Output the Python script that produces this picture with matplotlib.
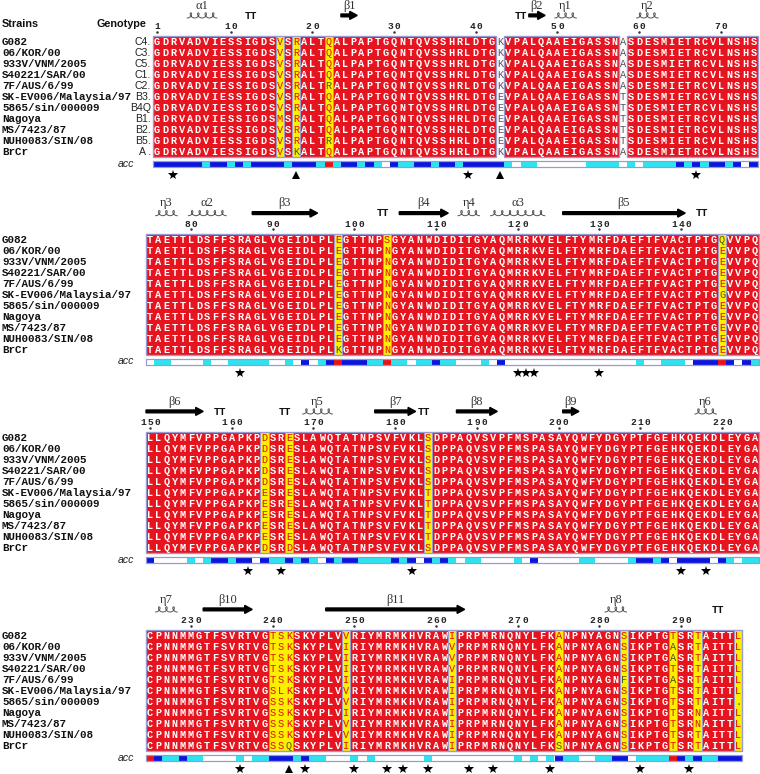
import numpy as np
import matplotlib.pyplot as plt
from matplotlib.patches import Rectangle, FancyArrow

# ---- data -------------------------------------------------------------
strains = ["G082", "06/KOR/00", "933V/VNM/2005", "S40221/SAR/00", "7F/AUS/6/99",
           "SK-EV006/Malaysia/97", "5865/sin/000009", "Nagoya", "MS/7423/87",
           "NUH0083/SIN/08", "BrCr"]
genotypes = ["C4.", "C3.", "C5.", "C1.", "C2.", "B3.", "B4Q", "B1.", "B2.", "B5.", "A ."]

block_starts = [1, 75, 150, 225]

# reference sequence (G082), one string per block
ref_seq = [
    "GDRVADVIESSIGDSVSRALTQALPAPTGQNTQVSSHRLDTGKVPALQAAEIGASSNASDESMIETRCVLNSHS",
    "TAETTLDSFFSRAGLVGEIDLPLEGTTNPSGYANWDIDITGYAQMRRKVELFTYMRFDAEFTFVACTPTGQVVPQ",
    "LLQYMFVPPGAPKPDSRESLAWQTATNPSVFVKLSDPPAQVSVPFMSPASAYQWFYDGYPTFGEHKQEKDLEYGA",
    "CPNNMMGTFSVRTVGTSKSKYPLVVRIYMRMKHVRAWIPRPMRNQNYLFKANPNYAGNSIKPTGTSRTAITTL",
]

# columns that differ between strains: residue -> letters in strain order
variable_cols = {
    16: "VVVVVVVMVVV", 18: "RRRRRRRRRRK", 22: "QQQQRQQQQRQ",
    43: "KKKKKEEEEEK", 58: "AAAAATTTTTA",
    98: "EEEEEEEEEEK", 104: "SNNNNNNNNNN", 145: "QEEEEGEEEEE",
    164: "DDDDDEEEEED", 167: "EEEEEEEEEED", 184: "SSSSSTTTTTS",
    240: "TTTTTSSSSSS", 241: "SSSSSLSSSSS", 242: "KKKKKKKKKKQ",
    249: "VIIIIVVIVVI", 262: "IVVVIIIIIII", 275: "AAAAAAAAAAS",
    283: "SSSSFSSSSSS", 289: "TAATATTTTTT", 292: "TTTTTTTNNTT",
    297: "LLLLLL.LLLL",
}
weak_cols = [43, 58]
odd_letters = {18: "K", 22: "R", 98: "K", 145: "QG", 241: "L", 242: "Q",
               275: "S", 283: "F", 289: "A", 297: "."}

# accessibility: B buried(blue), C intermediate(cyan), W exposed(white), R red
acc = [
    "BBBBBBCBBCBCBBBBCBBBCRCBBCBCWBCCBBCBBCBBBBBCWCCWWWWWWCCCCWCWCCCCBCBCBBCBWB",
    "WCCWWWWCWWCCCCCWWCWBWCBRBBBCCRCCWCCBCCWWWCWBWWWWWWWWWWWWWWWWCWWCCCWBBBRBWBC",
    "BWWWWCWCBBCBBWBCCBCBCWBCBBCCCCBCBWBCBCWCCWWWWCWBWWWWWCCWWWWCBBCBWBBBBWBCWCC",
    "RBCCBCCWWWWCWCCBBBCBCCWWWCWCWWWWWWCWWWWWWWWWWCWCWCBCCWWCCBBWCCCCRBCBCCBBB",
]

stars = [3, 39, 67, 86, 120, 121, 122, 130, 162, 166, 182, 215, 218,
         236, 244, 250, 254, 256, 259, 264, 267, 274, 285, 291]
triangles = [18, 43, 242]

ss_labels = ["α1", "TT", "β1", "TT", "β2", "η1", "η2",
             "η3", "α2", "β3", "TT", "β4", "η4", "α3", "β5", "TT",
             "β6", "TT", "TT", "η5", "β7", "TT", "β8", "β9", "η6",
             "η7", "β10", "β11", "η8", "TT"]
ss_kinds = ["helix", "turn", "strand", "turn", "strand", "helix", "helix",
            "helix", "helix", "strand", "turn", "strand", "helix", "helix", "strand", "turn",
            "strand", "turn", "turn", "helix", "strand", "turn", "strand", "strand", "helix",
            "helix", "strand", "strand", "helix", "turn"]
ss_start = [5, 12, 24, 45, 47, 50, 60,
            76, 80, 88, 103, 106, 113, 117, 126, 142,
            150, 158, 166, 169, 178, 183, 188, 201, 217,
            226, 232, 247, 281, 294]
ss_end = [8, 13, 25, 46, 48, 52, 62,
          78, 84, 95, 104, 111, 115, 123, 140, 143,
          156, 159, 167, 172, 182, 184, 192, 202, 219,
          228, 237, 263, 283, 295]

# ---- layout -----------------------------------------------------------
W, H = 760, 774
row0 = [41.7, 239.4, 437.7, 635.7]
x0 = [153, 146, 146, 146]
cw = 8.17
rh = 11.0
nrow = len(strains)

RED = '#e6141e'
YELLOW = '#fcef00'
FRAME = '#9a9ad2'
DARK = '#4c5410'
acc_colors = {'B': '#0a16dc', 'C': '#2ce4f0', 'W': 'white', 'R': '#ee1111'}

SEQ_FONT = dict(family='Liberation Mono', weight='bold', size=7.4)
NAME_FONT = dict(family='Liberation Mono', weight='bold', size=7.8)

fig = plt.figure(figsize=(7.6, 7.74), dpi=100)
ax = fig.add_axes([0, 0, 1, 1])
ax.set_xlim(0, W)
ax.set_ylim(H, 0)
ax.axis('off')


def block_of(k):
    for b in range(len(block_starts) - 1, -1, -1):
        if k >= block_starts[b]:
            return b


def left(b, k):
    return x0[b] + (k - block_starts[b]) * cw


def xc(b, k):
    return left(b, k) + cw / 2


def draw_coil(xl, xr, y, n):
    t = np.linspace(np.pi, np.pi + 2 * np.pi * n, 80 * n)
    a = (xr - xl - 3) / (2 * np.pi * n)
    bx = 2.3
    xs = xl + 1.5 + a * (t - np.pi) - bx * np.sin(t)
    ys = y - 2.6 * np.cos(t)
    ax.plot(xs, ys, color='#555555', lw=0.7)


for b, seq in enumerate(ref_seq):
    start = block_starts[b]
    end = start + len(seq) - 1
    top = row0[b] - rh / 2
    bottom = row0[b] + (nrow - 1) * rh + rh / 2

    # conserved segments separated by weak columns
    segs, cur = [], None
    for k in range(start, end + 1):
        if k in weak_cols:
            if cur:
                segs.append(cur)
            cur = None
        elif cur is None:
            cur = [k, k]
        else:
            cur[1] = k
    if cur:
        segs.append(cur)
    for s, e in segs:
        ax.add_patch(Rectangle((left(b, s), top), (e - s + 1) * cw, bottom - top,
                               facecolor=RED, edgecolor='none', zorder=1))

    # yellow (similar) column groups
    ycols = [k for k in range(start, end + 1) if k in variable_cols and k not in weak_cols]
    groups = []
    for k in ycols:
        if groups and groups[-1][1] == k - 1:
            groups[-1][1] = k
        else:
            groups.append([k, k])
    for s, e in groups:
        ax.add_patch(Rectangle((left(b, s), top), (e - s + 1) * cw, bottom - top,
                               facecolor=YELLOW, edgecolor=FRAME, lw=0.7, zorder=2))
    for s, e in segs:
        ax.add_patch(Rectangle((left(b, s), top), (e - s + 1) * cw, bottom - top,
                               facecolor='none', edgecolor=FRAME, lw=1.0, zorder=3))

    # residues
    for i, ch in enumerate(seq):
        k = start + i
        for r in range(nrow):
            y = row0[b] + r * rh + 3.2
            if k in variable_cols:
                letter = variable_cols[k][r]
            else:
                letter = ch
            if k in weak_cols:
                ax.text(xc(b, k), y, letter, ha='center', va='baseline', color='#555555',
                        family='Liberation Mono', size=7.4, zorder=4)
                continue
            if k in variable_cols:
                color = DARK if letter in odd_letters.get(k, "") else '#e01010'
                ax.text(xc(b, k), y, letter, ha='center', va='baseline', color=color,
                        family='Liberation Mono', size=7.4, zorder=4)
            else:
                ax.text(xc(b, k), y, letter, ha='center', va='baseline', color='white',
                        zorder=4, **SEQ_FONT)

    # strain names
    for r, name in enumerate(strains):
        ax.text(2, row0[b] + r * rh + 3.3, name, ha='left', va='baseline',
                color='#111111', **NAME_FONT)
        if b == 0:
            ax.text(151, row0[b] + r * rh + 3.3, genotypes[r], ha='right', va='baseline',
                    family='Liberation Sans', size=7.6, color='#222222')

    # residue numbering
    ticks = [k for k in range(start, end + 1) if k % 10 == 0 or k == 1]
    for k in ticks:
        digits = str(k)
        n = len(digits)
        for j, d in enumerate(digits):
            ax.text(xc(b, k) + (j - (n - 1) / 2) * 7.2, row0[b] - 12.5, d,
                    ha='center', va='baseline', family='Liberation Mono',
                    weight='bold', size=6.8, color='#222222')
        ax.plot(xc(b, k), row0[b] - 10, marker='.', ms=1.6, color='#333333')

    # accessibility bar
    ya = row0[b] + 119.5
    for i, code in enumerate(acc[b]):
        k = start + i
        ax.add_patch(Rectangle((left(b, k), ya), cw, 6, facecolor=acc_colors[code],
                               edgecolor='none', zorder=1))
    ax.add_patch(Rectangle((left(b, start), ya), len(seq) * cw, 6, facecolor='none',
                           edgecolor=FRAME, lw=0.9, zorder=2))
    ax.text(134, ya + 5.5, "acc", ha='right', va='baseline', family='Liberation Sans',
            style='italic', size=7.6, color='#222222')

    # stars and triangles below
    ym = row0[b] + 133.5
    for k in stars:
        if start <= k <= end:
            ax.plot(xc(b, k), ym, marker='*', ms=7, color='black', mew=0)
    for k in triangles:
        if start <= k <= end:
            ax.plot(xc(b, k), ym, marker='^', ms=5.5, color='black', mew=0)

# header
ax.text(2, 27, "Strains", ha='left', va='baseline', family='Liberation Sans',
        weight='bold', size=7.8, color='#111111')
ax.text(146, 27, "Genotype", ha='right', va='baseline', family='Liberation Sans',
        weight='bold', size=7.8, color='#111111')

# secondary structure
for label, kind, s, e in zip(ss_labels, ss_kinds, ss_start, ss_end):
    b = block_of(s)
    xl, xr = left(b, s), left(b, e) + cw
    ys = row0[b] - 26.3
    if kind == 'turn':
        ax.text((xl + xr) / 2, ys + 3.2, "TT", ha='center', va='baseline',
                family='Liberation Mono', weight='bold', size=7.6, color='#111111')
        continue
    if kind == 'helix':
        draw_coil(xl, xr, ys, e - s + 1)
    else:
        ax.add_patch(FancyArrow(xl, ys, xr - xl, 0, width=2.8, head_width=8,
                                head_length=7.5, length_includes_head=True,
                                color='black', zorder=3))
    ax.text((xl + xr) / 2, row0[b] - 33, label, ha='center', va='baseline',
            family='Liberation Serif', size=9, color='#333333')

fig.savefig('out.png', dpi=100)
